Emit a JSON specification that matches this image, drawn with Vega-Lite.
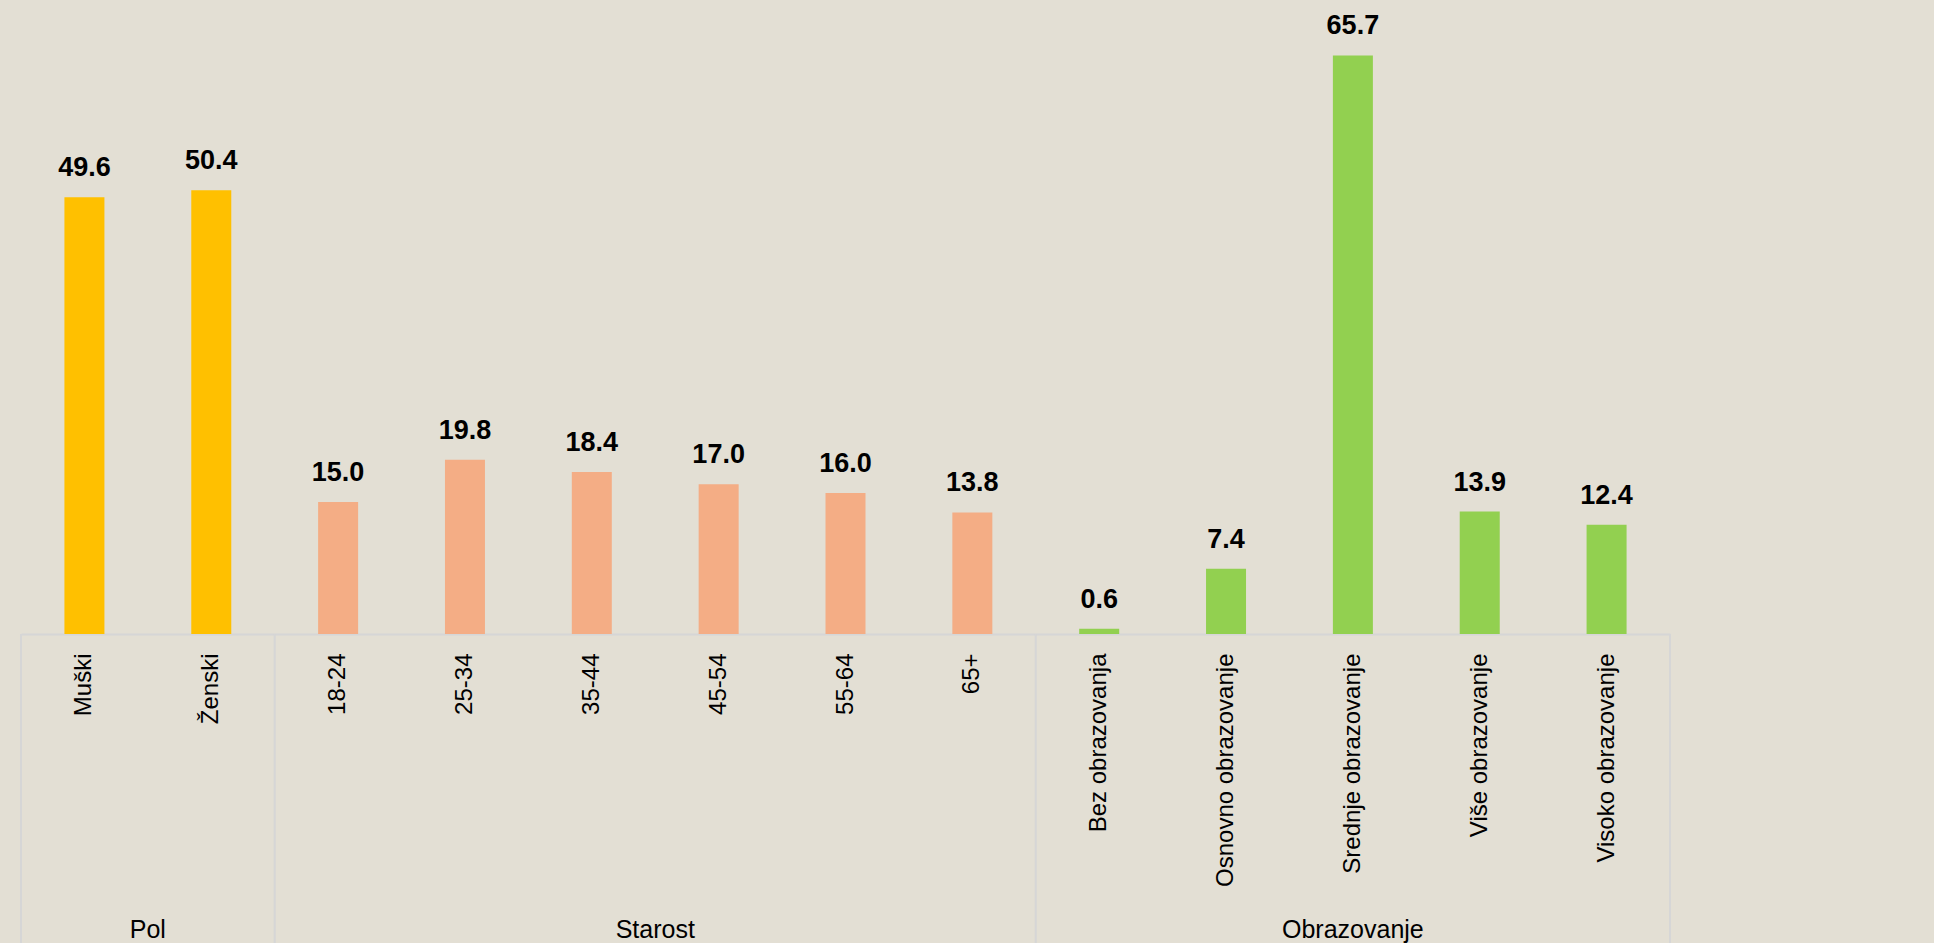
{
  "$schema": "https://vega.github.io/schema/vega-lite/v6.json",
  "width": 1649,
  "height": 634,
  "autosize": {"type": "none"},
  "padding": {"left": 21, "top": 0, "right": 264, "bottom": 309},
  "background": "#e3dfd4",
  "config": {"view": {"stroke": null}, "font": "Liberation Sans"},
  "datasets": {
    "bars": [
      {"cat": "Muški", "group": "Pol", "value": 49.6},
      {"cat": "Ženski", "group": "Pol", "value": 50.4},
      {"cat": "18-24", "group": "Starost", "value": 15.0},
      {"cat": "25-34", "group": "Starost", "value": 19.8},
      {"cat": "35-44", "group": "Starost", "value": 18.4},
      {"cat": "45-54", "group": "Starost", "value": 17.0},
      {"cat": "55-64", "group": "Starost", "value": 16.0},
      {"cat": "65+", "group": "Starost", "value": 13.8},
      {"cat": "Bez obrazovanja", "group": "Obrazovanje", "value": 0.6},
      {"cat": "Osnovno obrazovanje", "group": "Obrazovanje", "value": 7.4},
      {"cat": "Srednje obrazovanje", "group": "Obrazovanje", "value": 65.7},
      {"cat": "Više obrazovanje", "group": "Obrazovanje", "value": 13.9},
      {"cat": "Visoko obrazovanje", "group": "Obrazovanje", "value": 12.4}
    ],
    "sepStart": [{"cat": "Muški"}, {"cat": "18-24"}, {"cat": "Bez obrazovanja"}],
    "sepEnd": [{"cat": "Visoko obrazovanje"}],
    "groupEdge": [{"cat": "Ženski", "label": "Pol"}, {"cat": "45-54", "label": "Starost"}],
    "groupMid": [{"cat": "Srednje obrazovanje", "label": "Obrazovanje"}]
  },
  "layer": [
    {
      "data": {"name": "bars"},
      "mark": {"type": "bar", "width": 40},
      "encoding": {
        "x": {
          "field": "cat", "type": "nominal",
          "scale": {"domain": ["Muški", "Ženski", "18-24", "25-34", "35-44", "45-54", "55-64", "65+", "Bez obrazovanja", "Osnovno obrazovanje", "Srednje obrazovanje", "Više obrazovanje", "Visoko obrazovanje"], "paddingInner": 0, "paddingOuter": 0},
          "axis": {"title": null, "labelAngle": -90, "labelFontSize": 24, "labelColor": "#000000", "labelFont": "Liberation Sans", "ticks": false, "tickSize": 0, "labelPadding": 19, "domainColor": "#d6d6d6", "domainWidth": 2, "grid": false, "labelLimit": 400}
        },
        "y": {"field": "value", "type": "quantitative", "scale": {"domain": [0, 72], "nice": false}, "axis": null},
        "color": {"field": "group", "type": "nominal", "scale": {"domain": ["Pol", "Starost", "Obrazovanje"], "range": ["#ffc000", "#f4ad85", "#92d050"]}, "legend": null}
      }
    },
    {
      "data": {"name": "bars"},
      "mark": {"type": "text", "fontSize": 27, "fontWeight": "bold", "font": "Liberation Sans", "color": "#000000", "baseline": "alphabetic", "dy": -21},
      "encoding": {
        "x": {"field": "cat", "type": "nominal"},
        "y": {"field": "value", "type": "quantitative"},
        "text": {"field": "value", "type": "quantitative", "format": ".1f"}
      }
    },
    {
      "data": {"name": "sepStart"},
      "mark": {"type": "rule", "color": "#d6d6d6", "strokeWidth": 2},
      "encoding": {
        "x": {"field": "cat", "type": "nominal", "bandPosition": 0},
        "y": {"datum": 0},
        "y2": {"datum": -35.2}
      }
    },
    {
      "data": {"name": "sepEnd"},
      "mark": {"type": "rule", "color": "#d6d6d6", "strokeWidth": 2},
      "encoding": {
        "x": {"field": "cat", "type": "nominal", "bandPosition": 1},
        "y": {"datum": 0},
        "y2": {"datum": -35.2}
      }
    },
    {
      "data": {"name": "groupEdge"},
      "mark": {"type": "text", "fontSize": 25, "font": "Liberation Sans", "color": "#000000", "baseline": "alphabetic", "align": "center"},
      "encoding": {
        "x": {"field": "cat", "type": "nominal", "bandPosition": 0},
        "y": {"datum": -34.5},
        "text": {"field": "label"}
      }
    },
    {
      "data": {"name": "groupMid"},
      "mark": {"type": "text", "fontSize": 25, "font": "Liberation Sans", "color": "#000000", "baseline": "alphabetic", "align": "center"},
      "encoding": {
        "x": {"field": "cat", "type": "nominal", "bandPosition": 0.5},
        "y": {"datum": -34.5},
        "text": {"field": "label"}
      }
    }
  ]
}
